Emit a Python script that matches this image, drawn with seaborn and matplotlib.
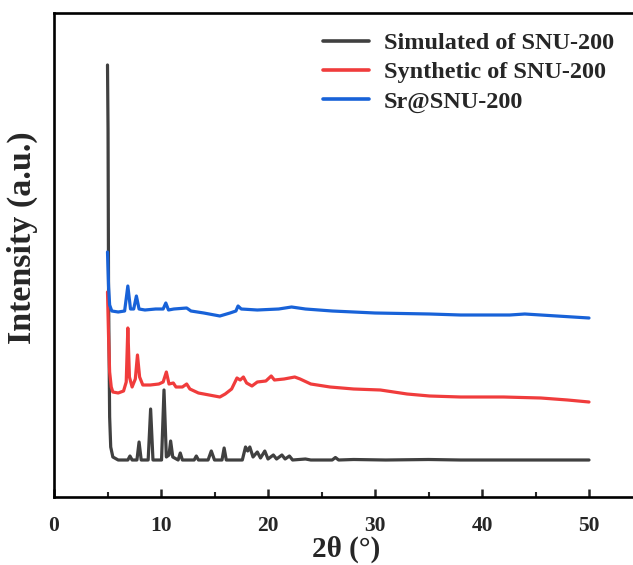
import numpy as np
import pandas as pd
import matplotlib
matplotlib.use("Agg")
import matplotlib.pyplot as plt
import seaborn as sns
from matplotlib.ticker import MultipleLocator

# Powder XRD patterns (2θ in degrees, intensity in arbitrary units, stacked)
sim_2theta = [5.0, 5.05, 5.1, 5.2, 5.3, 5.5, 6.0, 6.9, 7.1, 7.3, 7.75, 7.95, 8.15,
              8.8, 9.03, 9.25, 10.05, 10.28, 10.5, 10.75, 10.9, 11.1, 11.6, 11.8,
              12.0, 13.1, 13.3, 13.5, 14.4, 14.7, 15.0, 15.7, 15.9, 16.1, 17.6,
              17.9, 18.1, 18.3, 18.6, 19.0, 19.3, 19.7, 20.0, 20.5, 20.8, 21.3,
              21.6, 22.0, 22.3, 23.5, 24.0, 26.0, 26.3, 26.6, 28.0, 31.0, 35.0,
              38.0, 50.0]
sim_int = [432, 368, 200, 80, 50, 40, 37, 37, 41, 37, 37, 55, 37,
           37, 88, 37, 37, 107, 40, 42, 56, 40, 37, 44,
           37, 37, 41, 37, 37, 46, 37, 37, 49, 37, 37,
           50, 46, 50, 40, 45, 39, 46, 38, 42, 38, 42,
           38, 41, 37, 38, 37, 37, 39.5, 37, 37.5, 37, 37.5,
           37, 37]

syn_2theta = [5.0, 5.1, 5.2, 5.35, 5.5, 6.0, 6.5, 6.75, 6.9, 7.05, 7.3, 7.6, 7.8,
              8.0, 8.3, 9.0, 9.8, 10.2, 10.5, 10.75, 11.15, 11.4, 12.0, 12.4,
              12.7, 13.5, 14.5, 15.5, 16.0, 16.6, 17.1, 17.4, 17.7, 18.0, 18.5,
              19.0, 19.8, 20.3, 20.6, 21.5, 22.5, 23.0, 24.0, 25.8, 28.0, 30.5,
              33.0, 35.1, 38.0, 42.0, 45.5, 48.0, 50.0]
syn_int = [205, 160, 125, 110, 105, 104, 106, 115, 169, 120, 110, 118, 142,
           120, 112, 112, 113, 115, 125, 113, 114, 110, 110, 113,
           108, 104, 102, 100, 103, 108, 119, 117, 120, 114, 111,
           115, 116, 121, 117, 118, 120, 118, 113, 110, 108, 107,
           103, 101, 100, 100, 99, 97, 95]

sr_2theta = [5.0, 5.1, 5.2, 5.4, 6.0, 6.6, 6.9, 7.15, 7.45, 7.7, 7.95, 8.5, 9.5,
             10.2, 10.45, 10.7, 11.2, 12.4, 12.8, 14.0, 15.5, 16.45, 17.0, 17.2,
             17.5, 19.0, 21.0, 22.2, 23.5, 26.0, 30.0, 35.1, 38.0, 42.6, 44.0,
             47.0, 50.0]
sr_int = [245, 210, 192, 186, 185, 186, 211, 188, 188, 201, 188, 187, 188,
          188, 194, 187, 188, 189, 186, 184, 181, 184, 186, 191,
          188, 187, 188, 190, 188, 186, 184, 183, 182, 182, 183,
          181, 179]

labels = ["Simulated of SNU-200", "Synthetic of SNU-200", "Sr@SNU-200"]
colors = ["#404040", "#f03c3c", "#1862d8"]

df = pd.concat([
    pd.DataFrame({"2theta": sim_2theta, "intensity": sim_int, "sample": labels[0]}),
    pd.DataFrame({"2theta": syn_2theta, "intensity": syn_int, "sample": labels[1]}),
    pd.DataFrame({"2theta": sr_2theta, "intensity": sr_int, "sample": labels[2]}),
], ignore_index=True)

sns.set_theme(style="ticks")
plt.rcParams["font.family"] = ["Liberation Serif", "DejaVu Serif"]
plt.rcParams["font.weight"] = "bold"

fig = plt.figure(figsize=(6.33, 5.65), dpi=100)
ax = fig.add_axes([54 / 633, 68 / 565, 588.5 / 633, 484 / 565])

sns.lineplot(data=df, x="2theta", y="intensity", hue="sample", hue_order=labels,
             palette=colors, estimator=None, sort=False, linewidth=2.3, ax=ax)

ax.set_xlim(0, 55)
ax.set_ylim(0, 484)
ax.xaxis.set_major_locator(MultipleLocator(10))
ax.xaxis.set_minor_locator(MultipleLocator(5))
ax.set_yticks([])
ax.tick_params(axis="x", which="major", direction="in", length=6, width=1.8,
               labelsize=15.5, pad=14)
ax.tick_params(axis="x", which="minor", direction="in", length=3.5, width=1.5)
for lab in ax.get_xticklabels():
    lab.set_fontweight("bold")
for side in ["left", "bottom", "top", "right"]:
    ax.spines[side].set_visible(True)
    ax.spines[side].set_linewidth(1.9)
    ax.spines[side].set_color("black")

# Axis titles, placed in figure pixels converted to axes fractions
ax_w, ax_h = 588.5, 484
ax.set_xlabel("2θ (°)", fontsize=21, fontweight="bold")
ax.xaxis.set_label_coords((346 - 54) / ax_w, -(549 - 497) / ax_h)
ax.xaxis.label.set_va("center")
ax.set_ylabel("Intensity (a.u.)", fontsize=24.5, fontweight="bold")
ax.yaxis.set_label_coords(-(54 - 22) / ax_w, (497 - 238) / ax_h)
ax.yaxis.label.set_va("center")

leg = ax.legend(loc="upper left", bbox_to_anchor=(323 / 633, 1 - 32 / 565),
                bbox_transform=fig.transFigure, frameon=False,
                prop={"family": "Liberation Serif", "weight": "bold", "size": 17.5},
                handlelength=1.9, handletextpad=0.6, labelspacing=0.3,
                borderaxespad=0, borderpad=0)
for h in leg.get_lines():
    h.set_linewidth(2.6)

fig.savefig("out.png", dpi=100, facecolor="white")
